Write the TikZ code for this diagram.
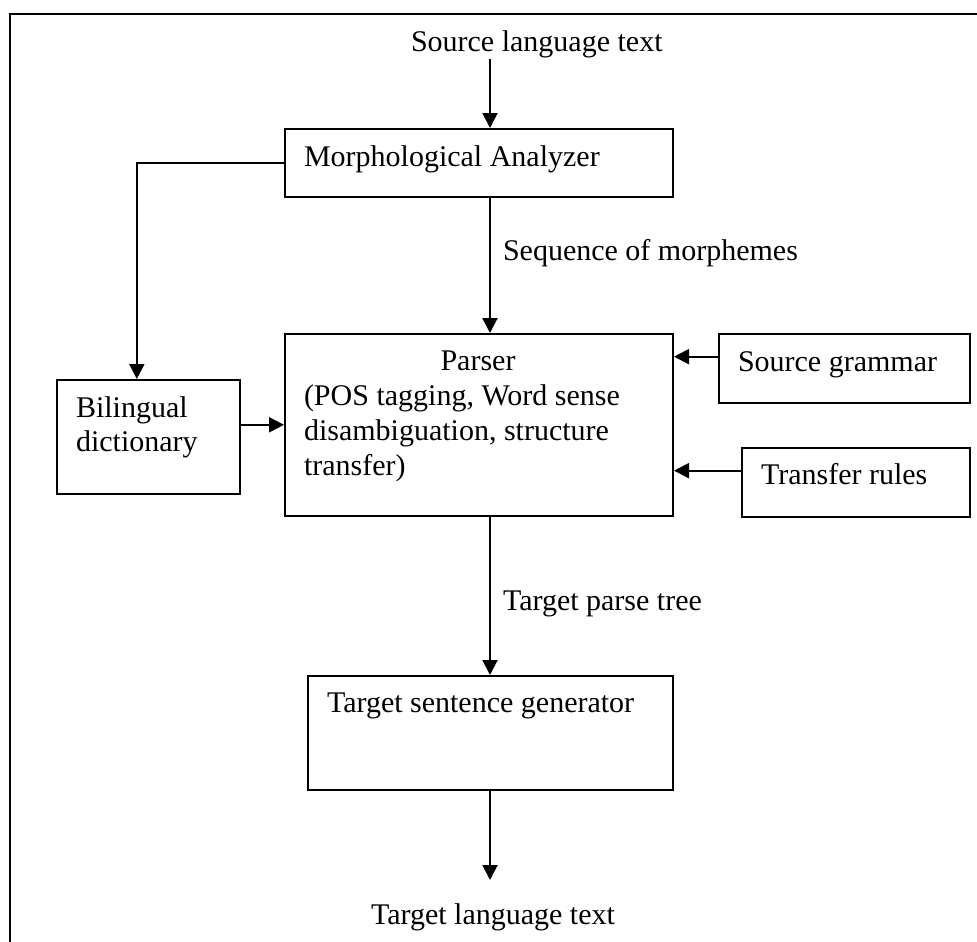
\documentclass[tikz,border=0pt]{standalone}
\usepackage{fontspec}
\setmainfont{Liberation Serif}
\usetikzlibrary{arrows.meta,calc}

\begin{document}
\begin{tikzpicture}[x=1pt,y=-1pt,
  line width=2pt,
  box/.style={draw, line width=2pt, inner sep=0pt, anchor=north west},
  txt/.style={inner sep=0pt, anchor=base west, font=\fontsize{30}{35}\selectfont},
  arr/.style={-{Triangle[length=15pt,width=15pt]}, line width=2pt}
]
\useasboundingbox (0,0) rectangle (977,942);

% outer frame (runs off the page on the right and at the bottom)
\draw[line width=2.4pt] (980,14) -- (10,14) -- (10,945);

% boxes
\node[box, minimum width=388pt, minimum height=68pt]  (morph)  at (284,128) {};
\node[box, minimum width=388pt, minimum height=182pt] (parser) at (284,333) {};
\node[box, minimum width=183pt, minimum height=114pt] (bil)    at (56,379)  {};
\node[box, minimum width=251pt, minimum height=69pt]  (sg)     at (718,333) {};
\node[box, minimum width=228pt, minimum height=69pt]  (tr)     at (741,447) {};
\node[box, minimum width=365pt, minimum height=114pt] (tsg)    at (307,675) {};

% texts
\node[txt] (srctxt)   at (410,52)  {Source language text};
\node[txt] (morphtxt) at (303,166) {Morphological Analyzer};
\node[txt] (seqtxt)   at (502,260) {Sequence of morphemes};
\node[txt, anchor=base] (ptitle) at (478,370) {Parser};
\node[txt] (pline1)   at (303,405) {(POS tagging, Word sense};
\node[txt] (pline2)   at (303,440) {disambiguation, structure};
\node[txt] (pline3)   at (303,475) {transfer)};
\node[txt] (bil1)     at (75,417)  {Bilingual};
\node[txt] (bil2)     at (75,451)  {dictionary};
\node[txt] (sgtxt)    at (737,371) {Source grammar};
\node[txt] (trtxt)    at (760,484) {Transfer rules};
\node[txt] (tpt)      at (502,610) {Target parse tree};
\node[txt] (tsgtxt)   at (326,712) {Target sentence generator};
\node[txt] (tlt)      at (370,924) {Target language text};

% connectors
\coordinate (spine) at (490,0);
\coordinate (outend) at (490,880);
\coordinate (bilin)  at ($(bil.north west)!0.437!(bil.north east)$);
\coordinate (bilout) at ($(bil.north east)!0.395!(bil.south east)$);
\coordinate (sgout)  at ($(sg.north west)!0.333!(sg.south west)$);
\coordinate (trout)  at ($(tr.north west)!0.333!(tr.south west)$);

\draw[arr] (srctxt.south -| spine) -- (morph.north -| spine);
\draw[arr] (morph.south -| spine) -- (parser.north -| spine);
\draw[arr] (parser.south -| spine) -- (tsg.north -| spine);
\draw[arr] (tsg.south -| spine) -- (outend);
\draw[arr] (morph.west) -| (bilin);
\draw[arr] (bilout) -- (bilout -| parser.west);
\draw[arr] (sgout) -- (sgout -| parser.east);
\draw[arr] (trout) -- (trout -| parser.east);
\end{tikzpicture}
\end{document}
